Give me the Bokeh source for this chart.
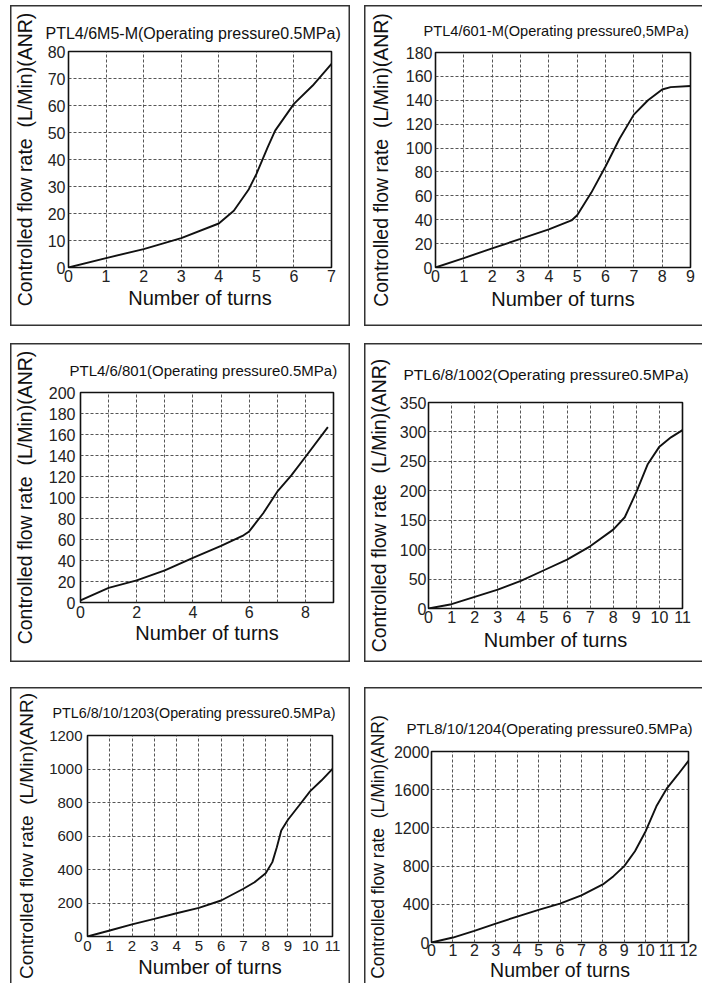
from bokeh.plotting import figure
from bokeh.layouts import column, row, Spacer
from bokeh.models import FixedTicker, Range1d
from bokeh.embed import file_html
from bokeh.resources import INLINE

FONT = "Liberation Sans"
Y_LABEL = "Controlled flow rate\u00a0 (L/Min)(ANR)"
X_LABEL = "Number of turns"

# ---- data ----
t1 = "PTL4/6M5-M(Operating pressure0.5MPa)"
x1 = [0, 1, 2, 3, 4, 4.4, 4.8, 5, 5.3, 5.5, 6, 6.5, 7]
y1 = [0, 3.5, 6.8, 10.9, 16.3, 21, 29, 34.6, 44.5, 50.7, 60.6, 67.4, 75.4]
xt1 = [0, 1, 2, 3, 4, 5, 6, 7]
yt1 = [0, 10, 20, 30, 40, 50, 60, 70, 80]

t2 = "PTL4/601-M(Operating pressure0,5MPa)"
x2 = [0, 1, 2, 3, 4, 4.8, 5, 5.5, 6, 6.5, 7, 7.5, 8, 8.3, 9]
y2 = [0, 7.9, 16, 23.9, 32, 39.4, 43.8, 62.7, 84.6, 108, 128, 140, 149, 151, 152]
xt2 = [0, 1, 2, 3, 4, 5, 6, 7, 8, 9]
yt2 = [0, 20, 40, 60, 80, 100, 120, 140, 160, 180]

t3 = "PTL4/6/801(Operating pressure0.5MPa)"
x3 = [0, 1, 2, 3, 4, 5, 5.8, 6, 6.5, 7, 7.5, 8, 8.8]
y3 = [2, 14, 21, 30.5, 42.5, 54, 64, 67.7, 85, 105.5, 121, 138.6, 167]
xt3 = [0, 2, 4, 6, 8]
xg3 = [0, 1, 2, 3, 4, 5, 6, 7, 8, 9]
yt3 = [0, 20, 40, 60, 80, 100, 120, 140, 160, 180, 200]

t4 = "PTL6/8/1002(Operating pressure0.5MPa)"
x4 = [0, 1, 2, 3, 4, 5, 6, 7, 8, 8.5, 9, 9.5, 10, 10.5, 11]
y4 = [0, 7.3, 19.7, 32, 47, 65, 83, 105.6, 134, 155, 197.6, 245.6, 275, 290.8, 303]
xt4 = [0, 1, 2, 3, 4, 5, 6, 7, 8, 9, 10, 11]
yt4 = [0, 50, 100, 150, 200, 250, 300, 350]

t5 = "PTL6/8/10/1203(Operating pressure0.5MPa)"
x5 = [0, 1, 2, 3, 4, 5, 6, 7, 7.5, 8, 8.3, 8.5, 8.7, 9, 9.5, 10, 10.5, 11]
y5 = [0, 36, 72, 105, 139, 171, 215, 285, 324, 378, 444, 533, 633, 697, 782, 868, 931, 1001]
xt5 = [0, 1, 2, 3, 4, 5, 6, 7, 8, 9, 10, 11]
yt5 = [0, 200, 400, 600, 800, 1000, 1200]

t6 = "PTL8/10/1204(Operating pressure0.5MPa)"
x6 = [0, 1, 2, 3, 4, 5, 6, 7, 8, 8.5, 9, 9.5, 10, 10.5, 11, 11.5, 12]
y6 = [0, 52, 122, 198, 271, 341, 407, 494, 608, 695, 800, 956, 1165, 1426, 1617, 1757, 1902]
xt6 = [0, 1, 2, 3, 4, 5, 6, 7, 8, 9, 10, 11, 12]
yt6 = [0, 400, 800, 1200, 1600, 2000]


def panel(title, xs, ys, xticks, yticks, xgrid, w, h, borders,
          t_size, t_off, t_stand, tick_size, ystands, xstands,
          xlab_size, ylab_size, sides):
    left, right, top, bottom = borders
    xmax = (xgrid or xticks)[-1]
    p = figure(width=w, height=h, output_backend="svg", toolbar_location=None,
               x_range=Range1d(0, xmax), y_range=Range1d(0, yticks[-1]),
               min_border_left=left, min_border_right=right,
               min_border_top=top, min_border_bottom=bottom,
               border_fill_color=None, background_fill_color="white")
    shadows = []
    if "t" in sides:
        shadows.append("inset 0 1.5px 0 0 #333")
    if "b" in sides:
        shadows.append("inset 0 -1.5px 0 0 #333")
    if "l" in sides:
        shadows.append("inset 1.5px 0 0 0 #333")
    if "r" in sides:
        shadows.append("inset -1.5px 0 0 0 #333")
    p.styles = {"box-shadow": ", ".join(shadows)}

    p.line(xs, ys, line_color="#111", line_width=1.9)

    p.title.text = title
    p.title.text_font = FONT
    p.title.text_font_style = "normal"
    p.title.text_font_size = f"{t_size}px"
    p.title.text_color = "#111"
    p.title.align = "left"
    p.title.vertical_align = "bottom"
    p.title.offset = t_off
    p.title.standoff = t_stand

    p.outline_line_color = "#111"
    p.outline_line_width = 1.6
    p.outline_line_alpha = 1

    p.xaxis.ticker = FixedTicker(ticks=xticks)
    p.yaxis.ticker = FixedTicker(ticks=yticks)
    p.xgrid.ticker = FixedTicker(ticks=xgrid if xgrid is not None else xticks)
    p.ygrid.ticker = FixedTicker(ticks=yticks)
    for g in (p.xgrid, p.ygrid):
        g.grid_line_color = "#444"
        g.grid_line_dash = "3 2"
        g.grid_line_width = 1
        g.grid_line_alpha = 0.9

    for ax in (p.xaxis, p.yaxis):
        ax.axis_line_color = None
        ax.major_tick_line_color = None
        ax.minor_tick_line_color = None
        ax.major_tick_out = 0
        ax.major_tick_in = 0
        ax.minor_tick_out = 0
        ax.minor_tick_in = 0
        ax.major_label_text_font = FONT
        ax.major_label_text_font_size = f"{tick_size}px"
        ax.major_label_text_color = "#222"
        ax.axis_label_text_font = FONT
        ax.axis_label_text_font_style = "normal"
        ax.axis_label_text_color = "#111"
    p.xaxis.axis_label = X_LABEL
    p.yaxis.axis_label = Y_LABEL
    p.xaxis.axis_label_text_font_size = f"{xlab_size}px"
    p.yaxis.axis_label_text_font_size = f"{ylab_size}px"
    p.yaxis.major_label_standoff, p.yaxis.axis_label_standoff = ystands
    p.xaxis.major_label_standoff, p.xaxis.axis_label_standoff = xstands
    return p


f1 = panel(t1, x1, y1, xt1, yt1, None, 340, 321, (56, 19, 46, 59),
           16, -23, 19, 16, (3, 9), (2, 2), 20, 19.5, "tblr")
f2 = panel(t2, x2, y2, xt2, yt2, None, 338, 321, (71, 12, 47, 59),
           14.6, -12, 28, 16, (3, 11), (2, 3), 20, 19.5, "tbl")
f3 = panel(t3, x3, y3, xt3, yt3, xg3, 340, 319, (69, 17, 49, 60),
           15, -11, 28, 16, (5, 10), (3, 1), 20, 19.5, "tblr")
f4 = panel(t4, x4, y4, xt4, yt4, None, 338, 319, (64, 20, 59, 54),
           15.5, -25, 39, 16, (2, 7), (2, 3), 20, 19.5, "tbl")
f5 = panel(t5, x5, y5, xt5, yt5, None, 340, 296, (77, 18, 48, 47),
           14.3, -35, 29, 15, (5, 9), (4, 2), 20, 19, "tlr")
f6 = panel(t6, x6, y6, xt6, yt6, None, 338, 296, (64, 14, 64, 41),
           15.1, -25, 30, 16, (2, 3), (1, 0), 19.5, 17.5, "tl")

layout = column(
    Spacer(height=5),
    row(Spacer(width=10), column(f1), Spacer(width=14), column(f2)),
    Spacer(height=17),
    row(Spacer(width=10), column(f3), Spacer(width=14), column(f4)),
    Spacer(height=25),
    row(Spacer(width=10), column(f5), Spacer(width=14), column(f6)),
)

open("out.html", "w").write(file_html(layout, INLINE))
